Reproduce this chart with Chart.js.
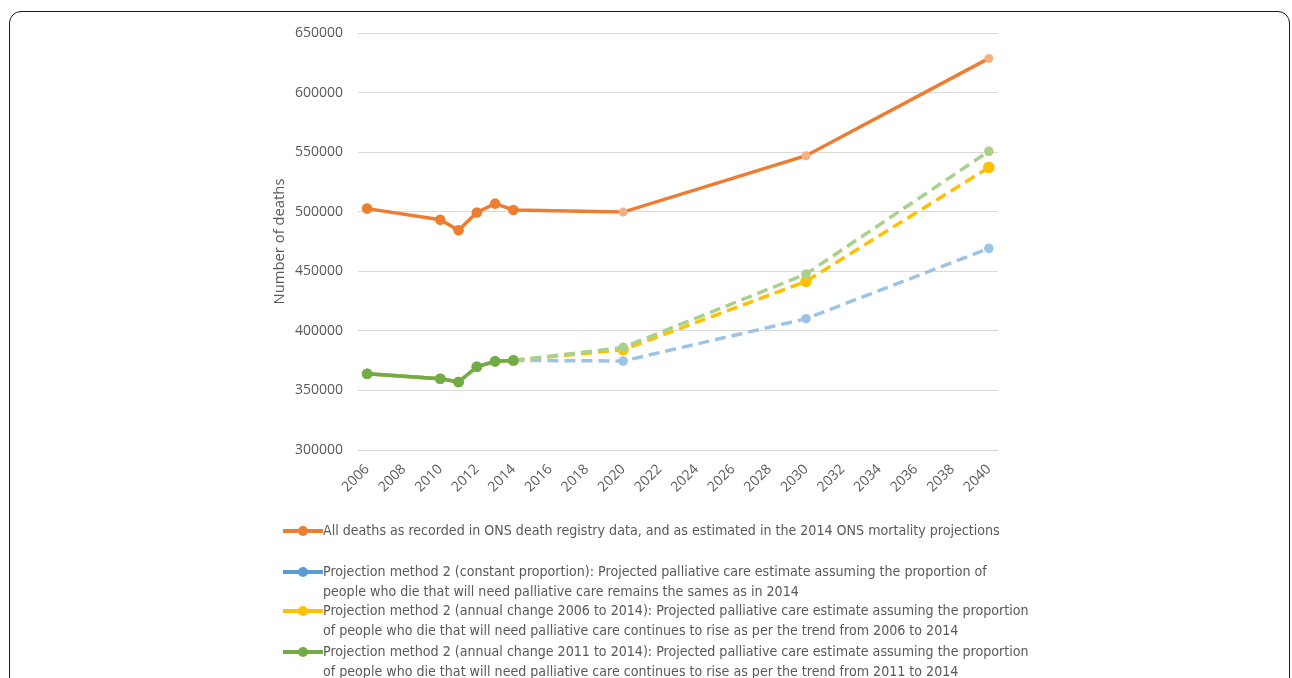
<!DOCTYPE html>
<html>
<head>
<meta charset="utf-8">
<script src="https://cdn.jsdelivr.net/npm/chart.js@4.4.1/dist/chart.umd.min.js"></script>
<style>
  html,body{margin:0;padding:0;background:#fff;}
  #wrap{position:relative;width:1292px;height:678px;overflow:hidden;}
  #frame{position:absolute;left:9px;top:11px;width:1281px;height:720px;border:1.6px solid #1a1a1a;border-radius:12px;box-sizing:border-box;}
  #c{position:absolute;left:0;top:0;}
  .lg{position:absolute;left:283px;font-family:"Liberation Sans Narrow","DejaVu Sans Condensed","Open Sans",sans-serif;font-size:14.1px;line-height:19.5px;color:#595959;white-space:nowrap;}
  .lg .mk{position:absolute;left:0;top:8px;width:40px;height:3.5px;}
  .lg .mk i{position:absolute;left:15px;top:-3.5px;width:10px;height:10px;border-radius:50%;}
  .lg .tx{position:absolute;left:40px;top:0;}
</style>
</head>
<body>
<div id="wrap">
  <div id="frame"></div>
  <canvas id="c" width="1292" height="678"></canvas>
  <div id="legend"></div>
</div>
<script>
const years = [2006, 2010, 2011, 2012, 2013, 2014, 2020, 2030, 2040];
const allDeaths = [502599, 493242, 484367, 499331, 506790, 501424, 499700, 547000, 628700];
const constantProportion = [364000, 359800, 357100, 369900, 374400, 375200, 374700, 410200, 469200];
const change2006to2014 = [364000, 359800, 357100, 369900, 374400, 375200, 384200, 441500, 537200];
const change2011to2014 = [364000, 359800, 357100, 369900, 374400, 375200, 386100, 447700, 550700];
const xTicks = [2006,2008,2010,2012,2014,2016,2018,2020,2022,2024,2026,2028,2030,2032,2034,2036,2038,2040];
const yTicks = [300000,350000,400000,450000,500000,550000,600000,650000];
const seriesNames = [
  "All deaths as recorded in ONS death registry data, and as estimated in the 2014 ONS mortality projections",
  "Projection method 2 (constant proportion): Projected palliative care estimate assuming the proportion of<br>people who die that will need palliative care remains the sames as in 2014",
  "Projection method 2 (annual change 2006 to 2014): Projected palliative care estimate assuming the proportion<br>of people who die that will need palliative care continues to rise as per the trend from 2006 to 2014",
  "Projection method 2 (annual change 2011 to 2014): Projected palliative care estimate assuming the proportion<br>of people who die that will need palliative care continues to rise as per the trend from 2011 to 2014"
];
const lastHistIndex = 5;

function pts(vals){ return years.map((y,i)=>({x:y, y:vals[i]})); }
function perPoint(dark, light){ return years.map((y,i)=> i>lastHistIndex ? light : dark); }

function ds(name, vals, dark, light, order, dashed, rHist, rProj){
  return {
    label: name.replace('<br>',' '),
    data: pts(vals),
    borderColor: dark,
    backgroundColor: dark,
    borderWidth: 3.5,
    pointRadius: years.map((y,i)=> i>lastHistIndex ? rProj : rHist),
    pointBackgroundColor: perPoint(dark, light),
    pointBorderColor: perPoint(dark, light),
    pointBorderWidth: 0,
    pointHoverRadius: 5,
    tension: 0,
    order: order,
    segment: {
      borderColor: ctx => (dashed && ctx.p0DataIndex >= lastHistIndex) ? light : dark,
      borderDash: ctx => (dashed && ctx.p0DataIndex >= lastHistIndex) ? [11,6] : undefined
    }
  };
}

const colors = [
  ['#ED7D31','#F4B183'],
  ['#5B9BD5','#9DC3E6'],
  ['#FFC000','#FFC000'],
  ['#70AD47','#A9D18E']
];

const datasets = [
  ds(seriesNames[0], allDeaths, colors[0][0], colors[0][1], 3, false, 5.3, 4.5),
  ds(seriesNames[1], constantProportion, colors[1][0], colors[1][1], 2, true, 5.3, 4.8),
  ds(seriesNames[2], change2006to2014, colors[2][0], colors[2][1], 1, true, 5.3, 5.8),
  ds(seriesNames[3], change2011to2014, colors[3][0], colors[3][1], 0, true, 5.3, 4.8)
];

const tickFont = {family: "'Open Sans', sans-serif", size: 14};

new Chart(document.getElementById('c'), {
  type: 'line',
  data: { datasets },
  options: {
    responsive: false,
    animation: false,
    devicePixelRatio: 1,
    layout: { padding: { left: 268, right: 294, top: 33, bottom: 168 } },
    plugins: { legend: { display: false }, tooltip: { enabled: false } },
    scales: {
      x: {
        type: 'linear',
        min: 2005.5,
        max: 2040.5,
        afterBuildTicks: s => { s.ticks = xTicks.map(v => ({value: v})); },
        afterFit: s => { s.height = 60; },
        grid: { display: false, drawTicks: false },
        border: { display: false },
        ticks: { color: '#595959', font: tickFont, maxRotation: 45, minRotation: 45, padding: 11, autoSkip: false,
                 callback: v => String(v) }
      },
      y: {
        type: 'linear',
        min: 300000,
        max: 650000,
        afterBuildTicks: s => { s.ticks = yTicks.map(v => ({value: v})); },
        afterFit: s => { s.width = 90; },
        grid: { color: '#D9D9D9', lineWidth: 1, drawTicks: false },
        border: { display: false },
        ticks: { color: '#595959', font: tickFont, padding: 15, callback: v => String(v) },
        title: { display: true, text: 'Number of deaths', color: '#595959', font: {family: "'Open Sans', sans-serif", size: 14.8}, padding: {top: 3, bottom: 4} }
      }
    }
  }
});

// HTML legend built from series names and colours
const legendTops = [521, 562, 601, 642];
const lg = document.getElementById('legend');
seriesNames.forEach((n, i) => {
  const d = document.createElement('div');
  d.className = 'lg';
  d.style.top = legendTops[i] + 'px';
  d.innerHTML = '<span class="mk" style="background:' + colors[i][0] + '"><i style="background:' + colors[i][0] + '"></i></span><span class="tx">' + n + '</span>';
  lg.appendChild(d);
});
</script>
</body>
</html>
